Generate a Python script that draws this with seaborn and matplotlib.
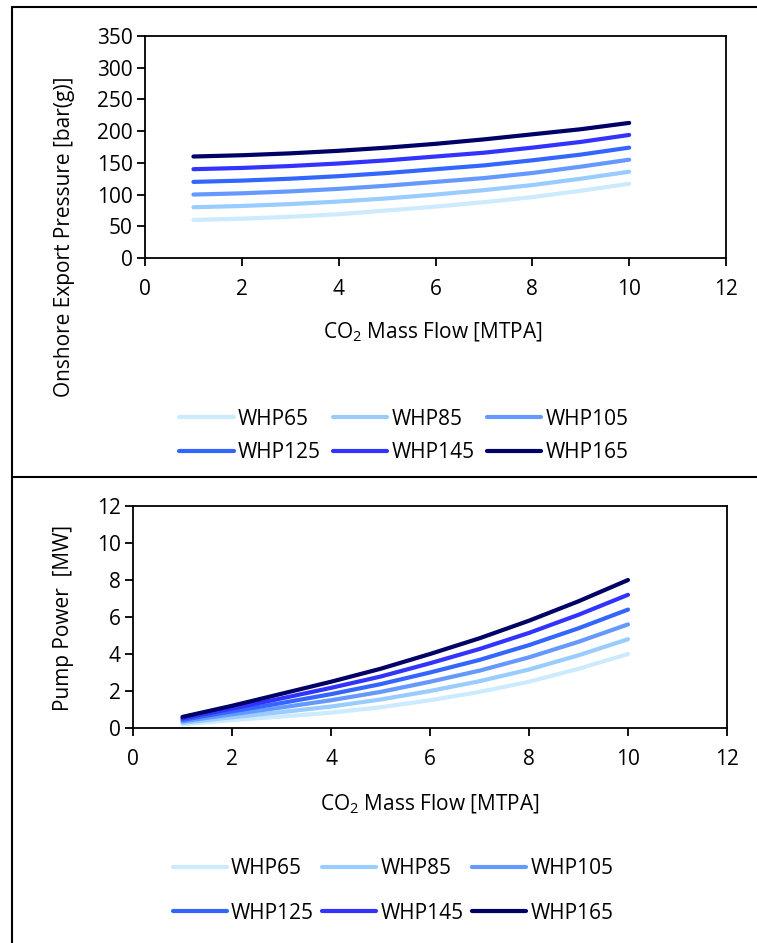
import matplotlib
matplotlib.use("Agg")
import matplotlib.pyplot as plt
import seaborn as sns
import pandas as pd
from matplotlib.lines import Line2D

# ---------------- data ----------------
flow = [1, 2, 3, 4, 5, 6, 7, 8, 9, 10]
series = ["WHP65", "WHP85", "WHP105", "WHP125", "WHP145", "WHP165"]
colors = ["#CCEBFF", "#99CCFF", "#6699FF", "#3366FF", "#3333FF", "#000066"]

pressure_whp65 = [60, 62, 65, 69, 75, 81, 88, 96, 106, 117]
pressure_whp85 = [80, 82, 85, 89, 94, 100, 107, 115, 125, 136]
pressure_whp105 = [100, 102, 105, 109, 114, 120, 126, 134, 144, 155]
pressure_whp125 = [120, 122, 125, 129, 134, 140, 146, 154, 163, 174]
pressure_whp145 = [140, 142, 145, 149, 154, 160, 166, 174, 183, 194]
pressure_whp165 = [160, 162, 165, 169, 174, 180, 187, 195, 203, 213]

power_whp65 = [0.20, 0.43, 0.62, 0.83, 1.12, 1.50, 1.95, 2.50, 3.20, 4.00]
power_whp85 = [0.28, 0.58, 0.86, 1.16, 1.54, 2.00, 2.53, 3.16, 3.93, 4.80]
power_whp105 = [0.36, 0.74, 1.11, 1.50, 1.95, 2.50, 3.10, 3.82, 4.66, 5.60]
power_whp125 = [0.44, 0.90, 1.35, 1.83, 2.37, 3.00, 3.68, 4.48, 5.39, 6.40]
power_whp145 = [0.52, 1.05, 1.60, 2.17, 2.78, 3.50, 4.27, 5.14, 6.12, 7.20]
power_whp165 = [0.60, 1.20, 1.85, 2.50, 3.20, 4.00, 4.85, 5.80, 6.85, 8.00]

x_ticks = [0, 2, 4, 6, 8, 10, 12]
p_ticks = [0, 50, 100, 150, 200, 250, 300, 350]
w_ticks = [0, 2, 4, 6, 8, 10, 12]

pressures = [pressure_whp65, pressure_whp85, pressure_whp105,
             pressure_whp125, pressure_whp145, pressure_whp165]
powers = [power_whp65, power_whp85, power_whp105,
          power_whp125, power_whp145, power_whp165]

def long_df(values):
    rows = []
    for name, vals in zip(series, values):
        for xv, yv in zip(flow, vals):
            rows.append({"flow": xv, "value": yv, "series": name})
    return pd.DataFrame(rows)

df_p = long_df(pressures)
df_w = long_df(powers)
palette = dict(zip(series, colors))

# ---------------- style ----------------
sns.set_theme(style="white")
plt.rcParams["font.family"] = ["Open Sans", "DejaVu Sans"]
plt.rcParams["mathtext.fontset"] = "custom"
plt.rcParams["mathtext.rm"] = "Open Sans"
plt.rcParams["mathtext.it"] = "Open Sans"
plt.rcParams["text.color"] = "black"
plt.rcParams["axes.labelcolor"] = "black"
plt.rcParams["xtick.color"] = "black"
plt.rcParams["ytick.color"] = "black"
FS = 15

fig = plt.figure(figsize=(7.57, 9.43), dpi=100)
W, H = 757, 943

def ax_rect(l, t, r, b):
    return [l / W, 1 - b / H, (r - l) / W, (b - t) / H]

ax1 = fig.add_axes(ax_rect(145, 36, 726, 258))
ax2 = fig.add_axes(ax_rect(133, 506, 727, 728))

def style_axis(ax, yticks):
    ax.set_xlim(0, 12)
    ax.set_ylim(yticks[0], yticks[-1])
    ax.set_xticks(x_ticks)
    ax.set_yticks(yticks)
    for s in ax.spines.values():
        s.set_color("black")
        s.set_linewidth(1.3)
        s.set_visible(True)
    ax.tick_params(axis="both", direction="out", length=6, width=1.3,
                   colors="black", labelcolor="black", labelsize=FS, pad=3,
                   bottom=True, left=True)
    ax.tick_params(axis="x", pad=9)
    ax.grid(False)
    ax.set_facecolor("white")

order = [0, 3, 1, 4, 2, 5]

for ax, df, yticks, ylabel, ylab_pos, xlab_pos, leg_center, lspace, cspace in [
    (ax1, df_p, p_ticks, "Onshore Export Pressure [bar(g)]", (-0.12, 0.095),
     (0.496, -0.285), (404 / W, 1 - 436 / H), 0.6, 0.6),
    (ax2, df_w, w_ticks, "Pump Power  [MW]", (-0.10, 0.495),
     (0.5, -0.29), (393 / W, 1 - 891 / H), 1.13, 0.4),
]:
    sns.lineplot(data=df, x="flow", y="value", hue="series", hue_order=series,
                 palette=palette, linewidth=3.0, ax=ax, legend=True,
                 solid_capstyle="round")
    style_axis(ax, yticks)
    ax.set_ylabel(ylabel, fontsize=FS, labelpad=0, color="black")
    ax.yaxis.set_label_coords(*ylab_pos)
    ax.set_xlabel(r"CO$_\mathrm{2}$ Mass Flow [MTPA]", fontsize=FS, color="black")
    ax.xaxis.set_label_coords(*xlab_pos)
    handles, labels = ax.get_legend_handles_labels()
    ax.get_legend().remove()
    handles = [handles[i] for i in order]
    labels = [labels[i] for i in order]
    for h in handles:
        h.set_linewidth(3.0)
    fig.legend(handles, labels, loc="center", bbox_to_anchor=leg_center,
               ncol=3, frameon=False, fontsize=FS, handlelength=2.6,
               handletextpad=0.2, columnspacing=cspace, labelspacing=lspace)

# panel borders
lw = 1.5
fig.add_artist(Line2D([12 / W, 12 / W], [0, 1 - 7 / H], color="black", lw=lw,
                      transform=fig.transFigure))
fig.add_artist(Line2D([12 / W, 1], [1 - 7 / H, 1 - 7 / H], color="black", lw=lw,
                      transform=fig.transFigure))
fig.add_artist(Line2D([12 / W, 1], [1 - 477 / H, 1 - 477 / H], color="black", lw=lw,
                      transform=fig.transFigure))

fig.savefig("out.png", dpi=100, facecolor="white")
